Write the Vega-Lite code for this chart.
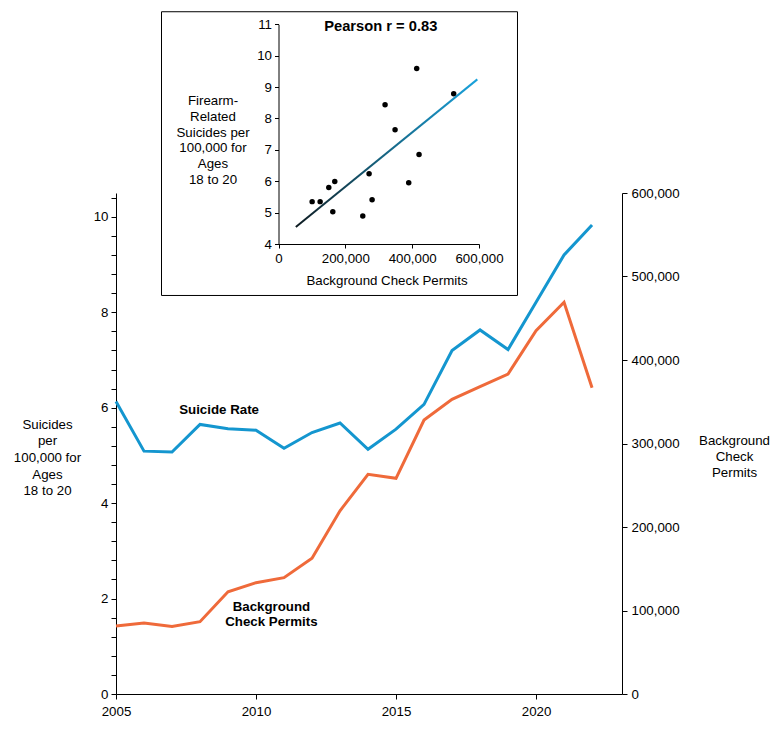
{
  "$schema": "https://vega.github.io/schema/vega-lite/v6.json",
  "autosize": "none",
  "width": 506,
  "height": 501,
  "padding": {"left": 116, "top": 193, "right": 161, "bottom": 37},
  "background": "white",
  "config": {
    "font": "Liberation Sans",
    "view": {"stroke": null},
    "axis": {
      "grid": false,
      "labelFont": "Liberation Sans",
      "labelFontSize": 13.3,
      "labelColor": "#000",
      "labelFlush": false,
      "labelOverlap": false,
      "domainColor": "#000",
      "domainWidth": 1,
      "tickColor": "#000",
      "tickWidth": 1,
      "titleFont": "Liberation Sans",
      "titleFontSize": 13.3,
      "titleFontWeight": "normal",
      "titleColor": "#000"
    },
    "text": {"font": "Liberation Sans", "color": "#000"}
  },
  "datasets": {
    "series": [
      {"year": 2005, "suicide_rate": 6.13, "permits": 81400},
      {"year": 2006, "suicide_rate": 5.09, "permits": 85000},
      {"year": 2007, "suicide_rate": 5.07, "permits": 81000},
      {"year": 2008, "suicide_rate": 5.65, "permits": 86600},
      {"year": 2009, "suicide_rate": 5.56, "permits": 122500},
      {"year": 2010, "suicide_rate": 5.53, "permits": 133300},
      {"year": 2011, "suicide_rate": 5.15, "permits": 139300},
      {"year": 2012, "suicide_rate": 5.48, "permits": 162500},
      {"year": 2013, "suicide_rate": 5.68, "permits": 219500},
      {"year": 2014, "suicide_rate": 5.13, "permits": 263100},
      {"year": 2015, "suicide_rate": 5.55, "permits": 258300},
      {"year": 2016, "suicide_rate": 6.07, "permits": 328100},
      {"year": 2017, "suicide_rate": 7.2, "permits": 352900},
      {"year": 2018, "suicide_rate": 7.63, "permits": 368000},
      {"year": 2019, "suicide_rate": 7.22, "permits": 383200},
      {"year": 2020, "suicide_rate": 8.21, "permits": 435100},
      {"year": 2021, "suicide_rate": 9.2, "permits": 469100},
      {"year": 2022, "suicide_rate": 9.83, "permits": 366800}
    ],
    "scatter": [
      {"permits": 100700, "rate": 5.35},
      {"permits": 124600, "rate": 5.35},
      {"permits": 150500, "rate": 5.8},
      {"permits": 168400, "rate": 5.99},
      {"permits": 162500, "rate": 5.03},
      {"permits": 252200, "rate": 4.89},
      {"permits": 271100, "rate": 6.24},
      {"permits": 280100, "rate": 5.41},
      {"permits": 318900, "rate": 8.44},
      {"permits": 348800, "rate": 7.64},
      {"permits": 389700, "rate": 5.95},
      {"permits": 420600, "rate": 6.85},
      {"permits": 413600, "rate": 9.59},
      {"permits": 524300, "rate": 8.79}
    ]
  },
  "layer": [
    {
      "layer": [
        {
          "data": {"name": "series"},
          "mark": {"type": "line", "color": "#1496cf", "strokeWidth": 3},
          "encoding": {
            "x": {
              "field": "year",
              "type": "quantitative",
              "scale": {"domain": [2005, 2023.07], "nice": false, "zero": false},
              "axis": {
                "orient": "bottom",
                "values": [2005, 2010, 2015, 2020],
                "format": "d",
                "tickSize": 5,
                "labelPadding": 5,
                "title": null
              }
            },
            "y": {
              "field": "suicide_rate",
              "type": "quantitative",
              "scale": {"domain": [0, 10.5], "nice": false},
              "axis": {
                "orient": "left",
                "values": [0, 0.4, 0.8, 1.2, 1.6, 2, 2.4, 2.8, 3.2, 3.6, 4, 4.4, 4.8, 5.2, 5.6, 6, 6.4, 6.8, 7.2, 7.6, 8, 8.4, 8.8, 9.2, 9.6, 10, 10.4],
                "tickCount": 60,
                "labelExpr": "datum.value % 2 === 0 ? format(datum.value, 'd') : ''",
                "tickSize": 5,
                "labelPadding": 3,
                "title": ["Suicides", "per", "100,000 for", "Ages", "18 to 20"],
                "titleAngle": 0,
                "titleAlign": "center",
                "titleBaseline": "middle",
                "titleLineHeight": 16.7,
                "titleX": -69,
                "titleY": 231
              }
            }
          }
        },
        {
          "layer": [
            {
              "data": {"name": "series"},
              "mark": {"type": "line", "color": "#ef6a3a", "strokeWidth": 3},
              "encoding": {
                "x": {"field": "year", "type": "quantitative"},
                "y": {
                  "field": "permits",
                  "type": "quantitative",
                  "scale": {"domain": [0, 600000], "nice": false},
                  "axis": {
                    "orient": "right",
                    "values": [0, 100000, 200000, 300000, 400000, 500000, 600000],
                    "format": ",d",
                    "tickSize": 5,
                    "labelPadding": 4,
                    "title": ["Background", "Check", "Permits"],
                    "titleAngle": 0,
                    "titleAlign": "center",
                    "titleBaseline": "middle",
                    "titleLineHeight": 16,
                    "titleX": 112,
                    "titleY": 247
                  }
                }
              }
            },
            {
              "data": {"values": [{}]},
              "mark": {"type": "text", "fontWeight": "bold", "fontSize": 13.3, "align": "center", "baseline": "middle"},
              "encoding": {
                "x": {"datum": 2008.68, "type": "quantitative"},
                "y": {"datum": 340100, "type": "quantitative"},
                "text": {"value": "Suicide Rate"}
              }
            },
            {
              "data": {"values": [{}]},
              "mark": {"type": "text", "fontWeight": "bold", "fontSize": 13.3, "align": "center", "baseline": "middle", "lineHeight": 15},
              "encoding": {
                "x": {"datum": 2010.55, "type": "quantitative"},
                "y": {"datum": 104500, "type": "quantitative"},
                "text": {"value": ["Background", "Check Permits"]}
              }
            }
          ]
        }
      ],
      "resolve": {"scale": {"y": "independent"}, "axis": {"y": "independent"}}
    },
    {
      "layer": [
        {
          "data": {"values": [{}]},
          "mark": {"type": "rect", "fill": null, "stroke": "#000", "strokeWidth": 1},
          "encoding": {
            "x": {"datum": -350100, "type": "quantitative"},
            "x2": {"datum": 715200},
            "y": {"datum": 2.36, "type": "quantitative"},
            "y2": {"datum": 11.4}
          }
        },
        {
          "data": {"name": "scatter"},
          "mark": {"type": "circle", "color": "#000", "opacity": 1, "size": 30},
          "encoding": {
            "x": {
              "field": "permits",
              "type": "quantitative",
              "scale": {"domain": [0, 600000], "range": [162.5, 363], "nice": false, "zero": false},
              "axis": {
                "orient": "bottom",
                "offset": -450,
                "values": [0, 200000, 400000, 600000],
                "format": ",d",
                "tickSize": 4,
                "labelPadding": 3,
                "title": "Background Check Permits",
                "titleAlign": "center",
                "titleBaseline": "middle",
                "titleX": 270.5,
                "titleY": 36
              }
            },
            "y": {
              "field": "rate",
              "type": "quantitative",
              "scale": {"domain": [4, 11], "range": [51, -168.7], "nice": false, "zero": false},
              "axis": {
                "orient": "left",
                "offset": -162.5,
                "values": [4, 5, 6, 7, 8, 9, 10, 11],
                "format": "d",
                "tickSize": 4,
                "labelPadding": 3,
                "title": ["Firearm-", "Related", "Suicides per", "100,000 for", "Ages", "18 to 20"],
                "titleAngle": 0,
                "titleAlign": "center",
                "titleBaseline": "middle",
                "titleLineHeight": 15.8,
                "titleX": -66,
                "titleY": -92.5
              }
            }
          }
        },
        {
          "data": {"name": "scatter"},
          "transform": [{"regression": "rate", "on": "permits", "extent": [51800, 595000]}],
          "mark": {
            "type": "line",
            "strokeWidth": 2,
            "color": {
              "gradient": "linear",
              "x1": 0, "y1": 0, "x2": 1, "y2": 0,
              "stops": [
                {"offset": 0, "color": "#0d1a20"},
                {"offset": 0.45, "color": "#16607c"},
                {"offset": 1, "color": "#19a2dc"}
              ]
            }
          },
          "encoding": {
            "x": {"field": "permits", "type": "quantitative"},
            "y": {"field": "rate", "type": "quantitative"}
          }
        },
        {
          "data": {"values": [{}]},
          "mark": {"type": "text", "fontWeight": "bold", "fontSize": 14.7, "align": "center", "baseline": "middle"},
          "encoding": {
            "x": {"datum": 306100, "type": "quantitative"},
            "y": {"datum": 10.92, "type": "quantitative"},
            "text": {"value": "Pearson r = 0.83"}
          }
        }
      ]
    }
  ],
  "resolve": {
    "scale": {"x": "independent", "y": "independent"},
    "axis": {"x": "independent", "y": "independent"}
  }
}
